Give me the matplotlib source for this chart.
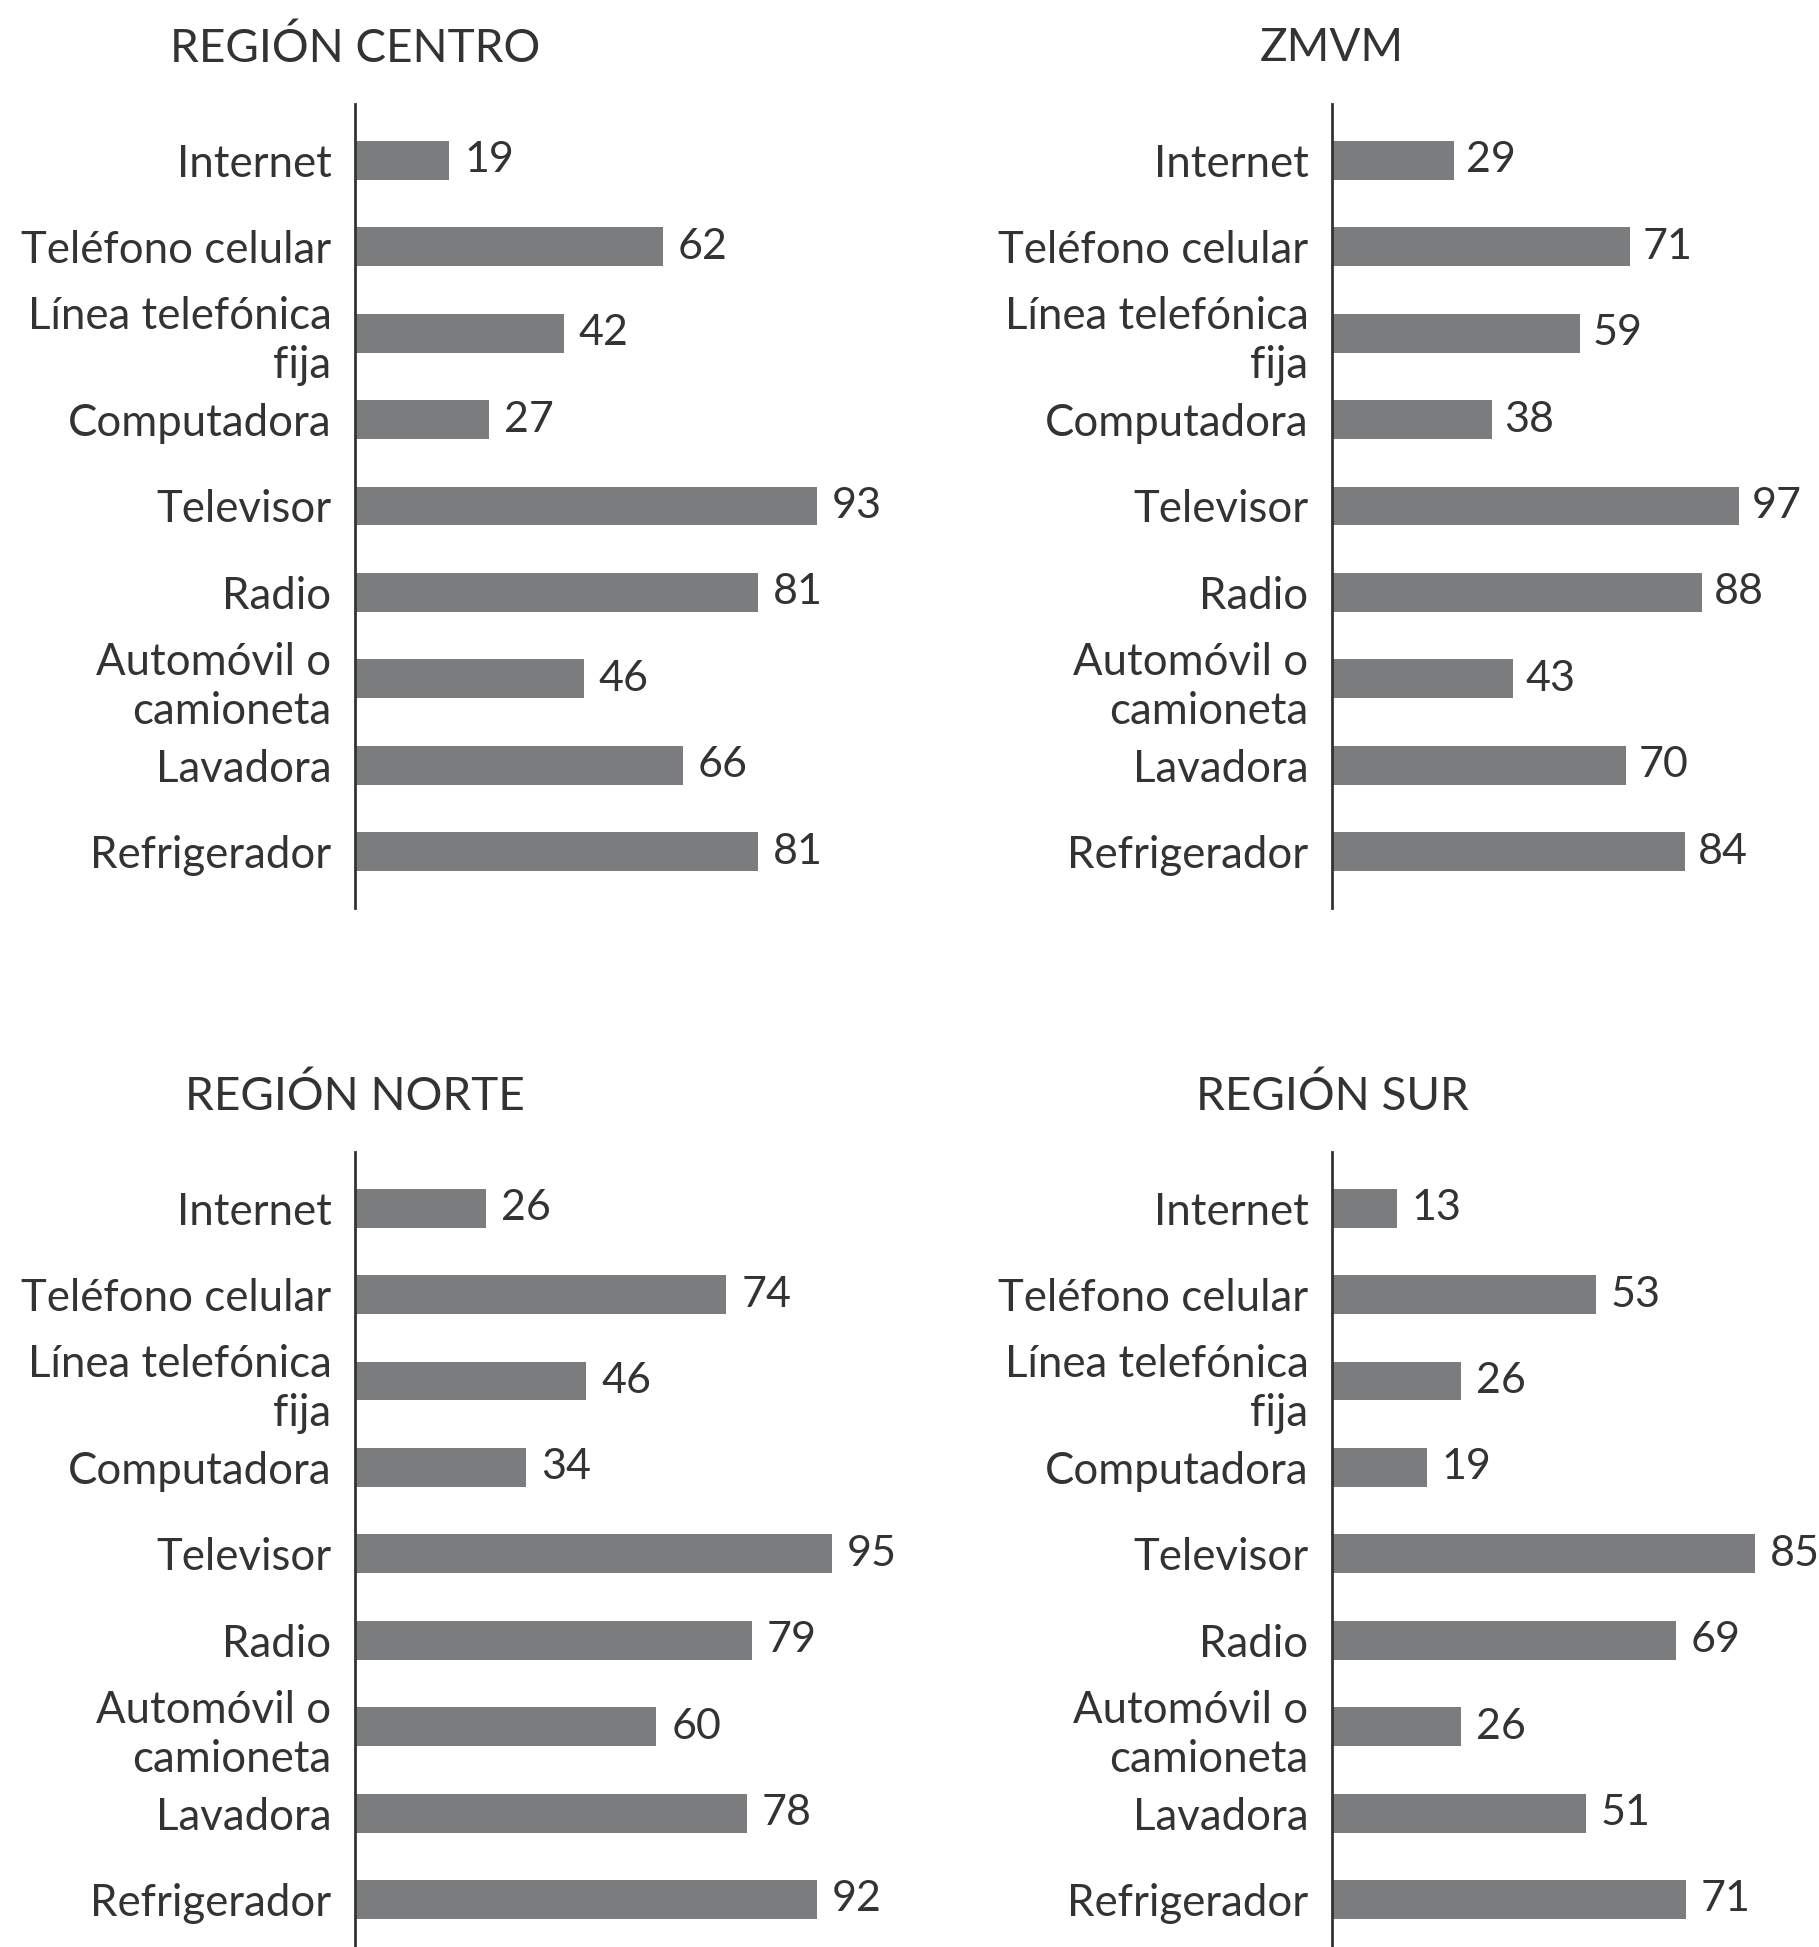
import numpy as np
import matplotlib.pyplot as plt

categorias = ["Internet", "Teléfono celular", "Línea telefónica\nfija", "Computadora",
              "Televisor", "Radio", "Automóvil o\ncamioneta", "Lavadora", "Refrigerador"]

centro = [19, 62, 42, 27, 93, 81, 46, 66, 81]
zmvm = [29, 71, 59, 38, 97, 88, 43, 70, 84]
norte = [26, 74, 46, 34, 95, 79, 60, 78, 92]
sur = [13, 53, 26, 19, 85, 69, 26, 51, 71]

titulos = ["REGIÓN CENTRO", "ZMVM", "REGIÓN NORTE", "REGIÓN SUR"]

plt.rcParams["font.family"] = ["Lato", "DejaVu Sans"]

W, H = 1819, 1947
fig = plt.figure(figsize=(W / 100, H / 100), dpi=100)

bar_color = "#7b7c7e"
text_color = "#333333"

# (valores, titulo, eje x en px, px por unidad, y arriba, y abajo, ylim abajo)
paneles = [
    (centro, titulos[0], 355, 4.97, 104, 908, 8.65),
    (zmvm, titulos[1], 1332, 4.20, 104, 908, 8.65),
    (norte, titulos[2], 355, 5.02, 1152, 1947, 8.55),
    (sur, titulos[3], 1332, 4.98, 1152, 1947, 8.55),
]

for vals, titulo, x0, ppu, ytop, ybot, ymax in paneles:
    w = 100 * ppu
    ax = fig.add_axes([x0 / W, 1 - ybot / H, w / W, (ybot - ytop) / H])
    y = np.arange(len(categorias))
    ax.barh(y, vals, height=0.45, color=bar_color)
    ax.set_xlim(0, 100)
    ax.set_ylim(ymax, -0.65)
    ax.set_yticks(y)
    ax.set_yticklabels(categorias, fontsize=31.5, color=text_color, ha="right",
                       linespacing=1.25)
    ax.tick_params(axis="y", length=0, pad=17)
    ax.set_xticks([])
    for s in ["top", "right", "bottom"]:
        ax.spines[s].set_visible(False)
    ax.spines["left"].set_color("#333333")
    ax.spines["left"].set_linewidth(2)
    for yi, v in zip(y, vals):
        ax.text(v + 3, yi, str(v), va="center", ha="left", fontsize=31,
                color=text_color)
    fig.text(x0 / W, 1 - (ytop - 56) / H, titulo, ha="center", va="center",
             fontsize=33, color=text_color)

fig.savefig("out.png", dpi=100, facecolor="white")
